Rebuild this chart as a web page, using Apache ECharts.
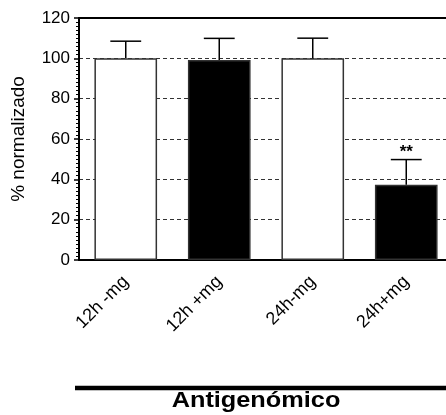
<!DOCTYPE html>
<html>
<head>
<meta charset="utf-8">
<script src="https://cdn.jsdelivr.net/npm/echarts@6/dist/echarts.min.js"></script>
<style>
  html, body { margin: 0; padding: 0; background: #fff; }
  #main { width: 446px; height: 415px; }
</style>
</head>
<body>
<div id="main"></div>
<script>
// data
var categories = ['12h -mg', '12h +mg', '24h-mg', '24h+mg'];
var means = [100, 99.2, 100, 37.3];
var errors = [8.5, 10.7, 10, 12.5];
var signif = ['', '', '', '**'];
var fills = ['#ffffff', '#000000', '#ffffff', '#000000'];
var yTicks = [0, 20, 40, 60, 80, 100, 120];

var chart = echarts.init(document.getElementById('main'), null, { renderer: 'canvas' });

var font = 'Liberation Sans, Arial, sans-serif';

var option = {
    animation: false,
    grid: {
        left: 79,
        top: 18,
        height: 242,
        width: 374,   // plot runs past the right edge of the picture
        outerBoundsMode: 'none'
    },
    xAxis: [
        {
            type: 'category',
            data: categories,
            axisLine: { lineStyle: { color: '#000', width: 2 } },
            axisTick: { alignWithLabel: true, length: 5, lineStyle: { color: '#000', width: 2 } },
            axisLabel: {
                rotate: 45,
                margin: 19,
                color: '#000',
                fontSize: 18,
                fontFamily: font
            }
        },
        {
            // top border line
            type: 'category',
            data: categories,
            position: 'top',
            axisLine: { lineStyle: { color: '#000', width: 2 } },
            axisTick: { show: false },
            axisLabel: { show: false }
        }
    ],
    yAxis: {
        type: 'value',
        min: yTicks[0],
        max: yTicks[yTicks.length - 1],
        interval: 20,
        name: '% normalizado',
        nameLocation: 'middle',
        nameGap: 51,
        nameTextStyle: { color: '#000', fontSize: 19, fontFamily: font },
        axisLine: { show: true, lineStyle: { color: '#000', width: 2 } },
        axisTick: { show: true, length: 5, lineStyle: { color: '#000', width: 1.5 } },
        minorTick: { show: true, splitNumber: 10, length: 3, lineStyle: { color: '#000', width: 1 } },
        axisLabel: { color: '#000', fontSize: 17, fontFamily: font, margin: 9 },
        splitLine: {
            show: true,
            lineStyle: { color: '#333', width: 1, type: [4, 3] }
        }
    },
    series: [
        {
            type: 'bar',
            barWidth: '67%',
            data: means.map(function (v, i) {
                return {
                    value: v,
                    itemStyle: { color: fills[i], borderColor: '#333', borderWidth: 1.5 }
                };
            }),
            z: 3
        },
        {
            type: 'custom',
            z: 4,
            data: means.map(function (v, i) { return [i, v, v + errors[i]]; }),
            renderItem: function (params, api) {
                var top = api.coord([api.value(0), api.value(2)]);
                var base = api.coord([api.value(0), api.value(1)]);
                var half = api.size([1, 0])[0] * 0.33 / 2;
                var children = [
                    {
                        type: 'line',
                        shape: { x1: base[0], y1: base[1], x2: top[0], y2: top[1] },
                        style: { stroke: '#000', lineWidth: 1.5 }
                    },
                    {
                        type: 'line',
                        shape: { x1: top[0] - half, y1: top[1], x2: top[0] + half, y2: top[1] },
                        style: { stroke: '#000', lineWidth: 1.5 }
                    }
                ];
                var s = signif[params.dataIndex];
                if (s) {
                    children.push({
                        type: 'text',
                        style: {
                            text: s,
                            x: top[0],
                            y: top[1] + 1,
                            align: 'center',
                            verticalAlign: 'bottom',
                            fill: '#000',
                            font: 'bold 17px ' + font
                        }
                    });
                }
                return { type: 'group', children: children };
            }
        }
    ],
    graphic: [
        {
            type: 'line',
            shape: { x1: 75, y1: 388, x2: 446, y2: 388 },
            style: { stroke: '#000', lineWidth: 4.5 }
        },
        {
            type: 'text',
            x: 256,
            y: 401,
            scaleX: 1.15,
            style: {
                text: 'Antigenómico',
                align: 'center',
                verticalAlign: 'middle',
                fill: '#000',
                font: 'bold 22px ' + font
            }
        }
    ]
};

chart.setOption(option);
</script>
</body>
</html>
